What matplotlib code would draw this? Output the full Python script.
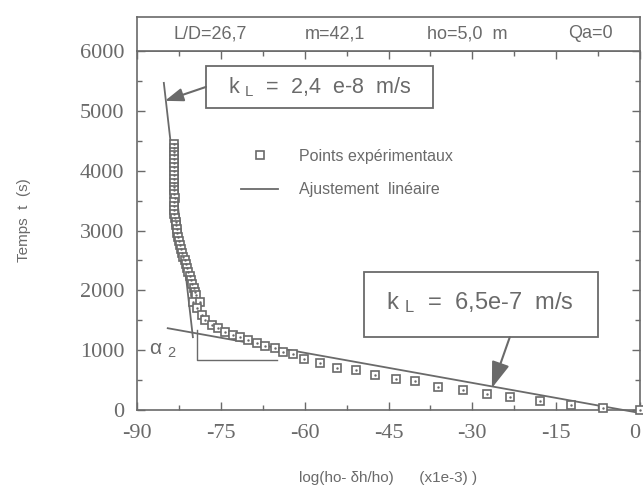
import matplotlib
matplotlib.use('Agg')
import matplotlib.pyplot as plt
from matplotlib.ticker import MultipleLocator, FixedLocator
from matplotlib.patches import Rectangle

# ---------------- data ----------------
points_x = [-83.3, -83.3, -83.3, -83.3, -83.3, -83.3, -83.3, -83.3, -83.3, -83.3,
            -83.3, -83.3, -83.3, -83.3, -83.2, -83.3, -83.4, -83.4, -83.3, -83.2,
            -83.1, -83.0, -82.9, -82.8, -82.6, -82.5, -82.3, -82.1, -81.9, -81.7,
            -81.5, -81.3, -81.1, -80.8, -80.6, -80.3, -80.1, -79.8, -79.6, -79.4,
            -80.0, -78.7, -79.3, -78.4, -77.8, -76.6, -75.5, -74.3,
            -72.8, -71.6, -70.1, -68.5, -67.1, -65.3, -63.9, -62.1, -60.1, -57.3,
            -54.2, -50.8, -47.4, -43.7, -40.3, -36.1, -31.7, -27.4, -23.3, -17.9,
            -12.3, -6.6, 0.0]
points_y = [4450, 4385, 4320, 4255, 4190, 4125, 4060, 3995, 3930, 3865,
            3800, 3735, 3670, 3605, 3540, 3475, 3410, 3345, 3280, 3215,
            3150, 3085, 3020, 2955, 2890, 2825, 2760, 2695, 2630, 2565,
            2500, 2435, 2370, 2305, 2240, 2175, 2110, 2045, 1980, 1920,
            1800, 1800, 1700, 1580, 1500, 1420, 1370, 1300,
            1250, 1217, 1167, 1117, 1067, 1033, 967, 933, 850, 783,
            700, 667, 583, 517, 483, 383, 333, 267, 217, 150,
            83, 33, 0]

fit_steep_x = [-85.2, -80.0]
fit_steep_y = [5467, 1217]
fit_shallow_x = [-84.5, 0.0]
fit_shallow_y = [1367, -50]

angle_x = [-79.3, -79.3, -65.0]
angle_y = [1333, 833, 833]

x_ticks = [-90, -75, -60, -45, -30, -15, 0]
x_ticklabels = ['-90', '-75', '-60', '-45', '-30', '-15', '0']
y_ticks = [0, 1000, 2000, 3000, 4000, 5000, 6000]
y_ticklabels = ['0', '1000', '2000', '3000', '4000', '5000', '6000']

header_texts = ['L/D=26,7', 'm=42,1', 'ho=5,0  m', 'Qa=0']
header_pos = [0.145, 0.394, 0.656, 0.901]

legend_labels = ['Points expérimentaux', 'Ajustement  linéaire']
kl1_text = 'k $_{\\mathrm{L}}$  =  2,4  e-8  m/s'
kl2_text = 'k $_{\\mathrm{L}}$  =  6,5e-7  m/s'
xlabel = 'log(ho- δh/ho)      (x1e-3) )'
ylabel = 'Temps  t  (s)'

# ---------------- style ----------------
GREY = '#6a6a6a'
plt.rcParams['font.family'] = ['Liberation Sans', 'DejaVu Sans']
plt.rcParams['mathtext.fontset'] = 'custom'
plt.rcParams['mathtext.rm'] = 'Liberation Sans'
plt.rcParams['mathtext.it'] = 'Liberation Sans:italic'
plt.rcParams['mathtext.bf'] = 'Liberation Sans:bold'

fig = plt.figure(figsize=(6.43, 4.95), dpi=100)
ax = fig.add_axes([137/643, 85/495, 503/643, 359/495])

# fit lines
ax.plot(fit_steep_x, fit_steep_y, color=GREY, lw=1.3, clip_on=False,
        label=legend_labels[1], zorder=2)
ax.plot(fit_shallow_x, fit_shallow_y, color=GREY, lw=1.3, clip_on=False, zorder=2)

# points
ax.plot(points_x, points_y, ls='none', marker='s', ms=6.4, mfc='white',
        mec=GREY, mew=1.2, clip_on=False, zorder=3, label=legend_labels[0])
ax.plot(points_x, points_y, ls='none', marker='.', ms=1.5, color=GREY,
        clip_on=False, zorder=4)

# angle construction
ax.plot(angle_x, angle_y, color=GREY, lw=1.0, zorder=2)
ax.text(-87.8, 990, 'α $_{\\mathrm{2}}$', fontsize=15, color=GREY,
        ha='left', va='center')

ax.set_xlim(-90, 0)
ax.set_ylim(0, 6000)
ax.xaxis.set_major_locator(FixedLocator(x_ticks))
ax.set_xticklabels(x_ticklabels)
ax.yaxis.set_major_locator(FixedLocator(y_ticks))
ax.set_yticklabels(y_ticklabels)
ax.xaxis.set_minor_locator(MultipleLocator(7.5))
ax.yaxis.set_minor_locator(MultipleLocator(500))
ax.tick_params(which='both', direction='in', top=True, right=True,
               color=GREY, width=1.0)
ax.tick_params(which='major', length=6)
ax.tick_params(which='minor', length=3.5)
ax.tick_params(axis='x', which='major', pad=10, labelsize=16, labelcolor=GREY)
ax.tick_params(axis='y', which='major', pad=9, labelsize=16, labelcolor=GREY)
for lab in ax.get_xticklabels() + ax.get_yticklabels():
    lab.set_family('Liberation Serif')
ax.get_xticklabels()[-1].set_horizontalalignment('right')
for sp in ax.spines.values():
    sp.set_color(GREY)
    sp.set_linewidth(1.2)

ax.set_xlabel(xlabel, fontsize=11, color=GREY, labelpad=20)
ax.set_ylabel(ylabel, fontsize=11, color=GREY)
ax.yaxis.set_label_coords(-0.21, 0.53)

# legend
handles, labels = ax.get_legend_handles_labels()
order = [labels.index(legend_labels[0]), labels.index(legend_labels[1])]
leg = ax.legend([handles[i] for i in order], [labels[i] for i in order],
                loc='upper left', bbox_to_anchor=(0.195, 0.745), frameon=False,
                fontsize=11.5, handlelength=2.3, labelspacing=1.15,
                handletextpad=1.3, borderaxespad=0)
for t in leg.get_texts():
    t.set_color(GREY)

# k_L boxes
ax.add_patch(Rectangle((-77.65, 5050), 40.6, 700, fill=False, ec=GREY,
                       lw=1.3, zorder=5))
ax.text(-57.3, 5390, kl1_text, fontsize=15.5, color=GREY, ha='center',
        va='center', zorder=6)
ax.annotate('', xy=(-85.0, 5167), xytext=(-77.65, 5400),
            arrowprops=dict(arrowstyle='-|>,head_length=1.1,head_width=0.4',
                            color=GREY, lw=1.5, shrinkA=0, shrinkB=0))

ax.add_patch(Rectangle((-49.4, 1217), 41.9, 1083, fill=False, ec=GREY,
                       lw=1.3, zorder=5))
ax.text(-28.6, 1790, kl2_text, fontsize=17, color=GREY, ha='center',
        va='center', zorder=6)
ax.annotate('', xy=(-26.5, 367), xytext=(-23.3, 1217),
            arrowprops=dict(arrowstyle='-|>,head_length=1.6,head_width=0.55',
                            color=GREY, lw=1.5, shrinkA=0, shrinkB=0))

# header box
hax = fig.add_axes([137/643, (495-51)/495, 503/643, 34/495])
hax.set_xticks([])
hax.set_yticks([])
for sp in hax.spines.values():
    sp.set_color(GREY)
    sp.set_linewidth(1.2)
for txt, xp in zip(header_texts, header_pos):
    hax.text(xp, 0.5, txt, fontsize=13, color=GREY, ha='center',
             va='center', transform=hax.transAxes)

fig.savefig('out.png', dpi=100, facecolor='white')
